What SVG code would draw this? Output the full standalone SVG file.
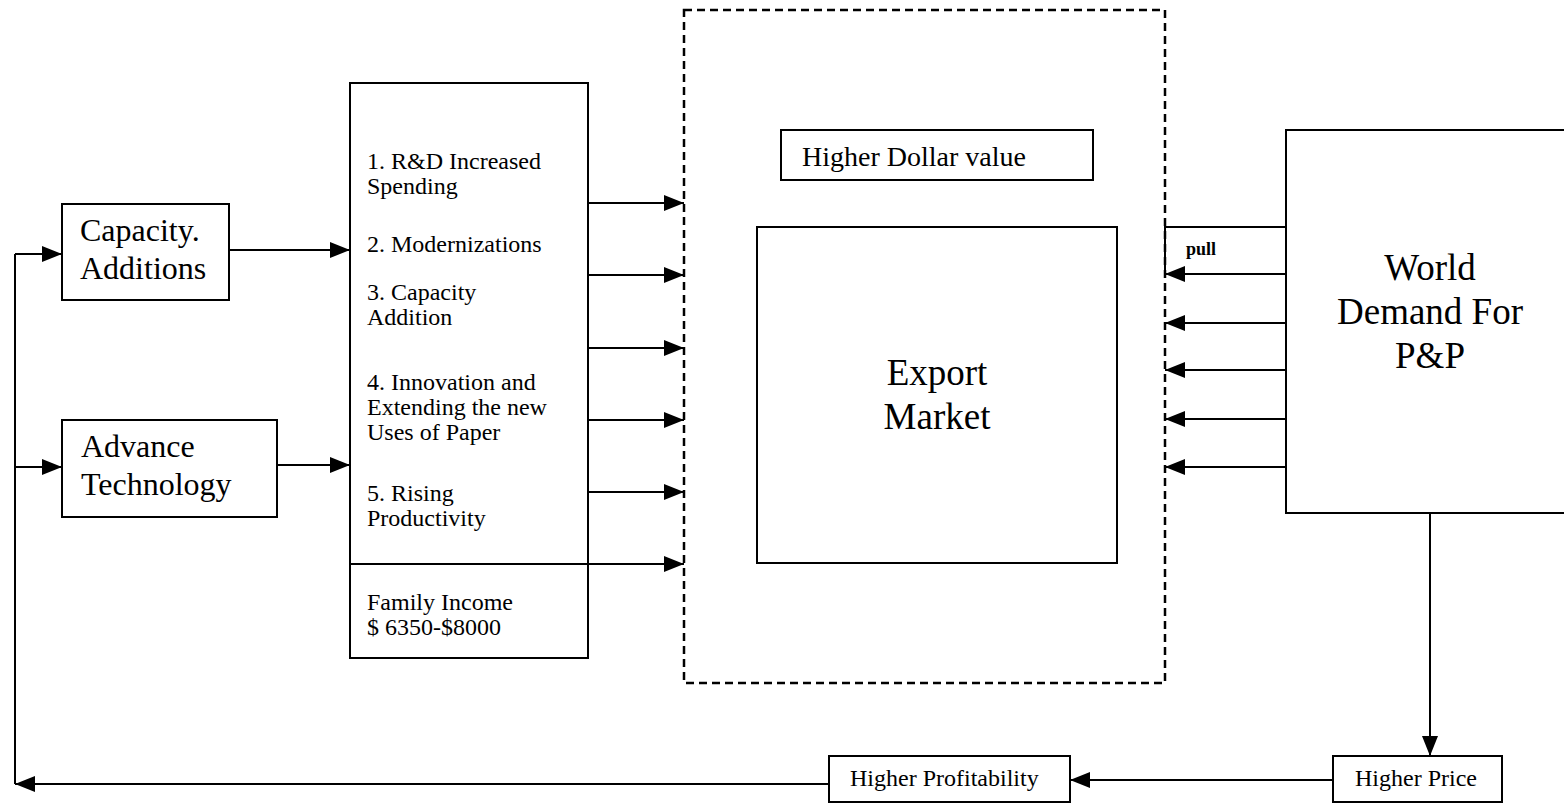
<svg xmlns="http://www.w3.org/2000/svg" width="1564" height="804" viewBox="0 0 1564 804">
  <defs>
    <marker id="arrow" markerUnits="userSpaceOnUse" markerWidth="21" markerHeight="17" refX="20" refY="8" orient="auto">
      <path d="M0,0 L20,8 L0,16 Z" fill="#000"/>
    </marker>
    <style>
      .box { fill: #fff; stroke: #000; stroke-width: 2; }
      .dash { fill: none; stroke: #000; stroke-width: 2.5; stroke-dasharray: 8 5; }
      .wire { fill: none; stroke: #000; stroke-width: 2; }
      .arr { fill: none; stroke: #000; stroke-width: 2; marker-end: url(#arrow); }
      text { font-family: "Liberation Serif", "Times New Roman", serif; fill: #000; }
      .big { font-size: 37px; }
      .mid { font-size: 32px; }
      .hdv { font-size: 28px; }
      .lst { font-size: 24px; }
      .sml { font-size: 24px; }
      .pull { font-size: 18px; font-weight: bold; }
    </style>
  </defs>

  <rect width="1564" height="804" fill="#fff"/>

  <!-- export market zone -->
  <g id="export-zone">
    <rect class="dash" x="684" y="10" width="481" height="673"/>
  </g>

  <g id="dollar-value">
    <rect class="box" x="781" y="130" width="312" height="50"/>
    <text class="hdv" x="802" y="166">Higher Dollar value</text>
  </g>

  <g id="export-market">
    <rect class="box" x="757" y="227" width="360" height="336"/>
    <text class="big" x="937" y="385" text-anchor="middle">Export</text>
    <text class="big" x="937" y="429" text-anchor="middle">Market</text>
  </g>

  <g id="capacity-additions">
    <rect class="box" x="62" y="204" width="167" height="96"/>
    <text class="mid" x="80" y="241">Capacity.</text>
    <text class="mid" x="80" y="279">Additions</text>
  </g>

  <g id="advance-technology">
    <rect class="box" x="62" y="420" width="215" height="97"/>
    <text class="mid" x="81" y="457">Advance</text>
    <text class="mid" x="81" y="495">Technology</text>
  </g>

  <g id="drivers">
    <rect class="box" x="350" y="83" width="238" height="575"/>
    <text class="lst" x="367" y="169">1. R&amp;D Increased</text>
    <text class="lst" x="367" y="194">Spending</text>
    <text class="lst" x="367" y="252">2. Modernizations</text>
    <text class="lst" x="367" y="300">3. Capacity</text>
    <text class="lst" x="367" y="325">Addition</text>
    <text class="lst" x="367" y="390">4. Innovation and</text>
    <text class="lst" x="367" y="415">Extending the new</text>
    <text class="lst" x="367" y="440">Uses of Paper</text>
    <text class="lst" x="367" y="501">5. Rising</text>
    <text class="lst" x="367" y="526">Productivity</text>
    <text class="lst" x="367" y="610">Family Income</text>
    <text class="lst" x="367" y="635">$ 6350-$8000</text>
  </g>

  <g id="world-demand">
    <rect class="box" x="1286" y="130" width="300" height="383"/>
    <text class="big" x="1430" y="280" text-anchor="middle">World</text>
    <text class="big" x="1430" y="324" text-anchor="middle">Demand For</text>
    <text class="big" x="1430" y="368" text-anchor="middle">P&amp;P</text>
  </g>

  <g id="higher-price">
    <rect class="box" x="1333" y="756" width="169" height="46"/>
    <text class="sml" x="1355" y="786">Higher Price</text>
  </g>

  <g id="higher-profitability">
    <rect class="box" x="829" y="756" width="241" height="46"/>
    <text class="sml" x="850" y="786">Higher Profitability</text>
  </g>

  <g id="connectors">
    <!-- feedback loop back to the inputs -->
    <path class="arr" d="M829,784 L15,784"/>
    <path class="wire" d="M15,784 L15,254"/>
    <path class="arr" d="M15,254 L62,254"/>
    <path class="arr" d="M15,467 L62,467"/>
    <!-- inputs into the drivers list -->
    <path class="arr" d="M229,250 L350,250"/>
    <path class="arr" d="M277,465 L350,465"/>
    <!-- drivers push into the export market -->
    <path class="arr" d="M588,203 L684,203"/>
    <path class="arr" d="M588,275 L684,275"/>
    <path class="arr" d="M588,348 L684,348"/>
    <path class="arr" d="M588,420 L684,420"/>
    <path class="arr" d="M588,492 L684,492"/>
    <path class="arr" d="M350,564 L684,564"/>
    <!-- world demand pull -->
    <path class="wire" d="M1286,227 L1165,227 L1165,274"/>
    <text class="pull" x="1186" y="255">pull</text>
    <path class="arr" d="M1286,274 L1165,274"/>
    <path class="arr" d="M1286,323 L1165,323"/>
    <path class="arr" d="M1286,370 L1165,370"/>
    <path class="arr" d="M1286,419 L1165,419"/>
    <path class="arr" d="M1286,467 L1165,467"/>
    <!-- price and profitability chain -->
    <path class="arr" d="M1430,513 L1430,756"/>
    <path class="arr" d="M1333,780 L1070,780"/>
  </g>
</svg>
